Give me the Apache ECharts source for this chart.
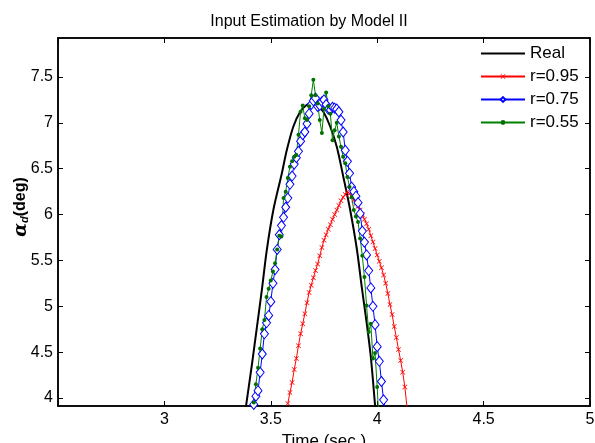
<!DOCTYPE html>
<html>
<head>
<meta charset="utf-8">
<script src="https://cdn.jsdelivr.net/npm/echarts@6/dist/echarts.min.js"></script>
<style>
  html, body { margin: 0; padding: 0; background: #fff; }
  #chart { width: 595px; height: 443px; }
</style>
</head>
<body>
<div id="chart"></div>
<script>
// values (time in sec, angle in deg)
var xTicks = [3, 3.5, 4, 4.5, 5];
var yTicks = [4, 4.5, 5, 5.5, 6, 6.5, 7, 7.5];
var legendNames = ['Real', 'r=0.95', 'r=0.75', 'r=0.55'];

var realT = [3.37, 3.384, 3.411, 3.434, 3.458, 3.481, 3.512, 3.552, 3.575, 3.606, 3.638, 3.665, 3.693,
    3.72, 3.747, 3.779, 3.81, 3.841, 3.873, 3.904, 3.928, 3.951, 3.97, 3.99, 4.0];
var realY = [3.69, 3.92, 4.36, 4.76, 5.18, 5.61, 6.05, 6.45, 6.7, 6.96, 7.12, 7.19, 7.22,
    7.19, 7.12, 6.96, 6.74, 6.41, 6.05, 5.63, 5.2, 4.81, 4.45, 3.92, 3.65];

var r95T = [3.58, 3.59, 3.6, 3.61, 3.62, 3.63, 3.64, 3.65, 3.66, 3.67, 3.68, 3.69, 3.7, 3.71, 3.72,
    3.73, 3.74, 3.75, 3.76, 3.77, 3.78, 3.79, 3.8, 3.81, 3.82, 3.83, 3.84, 3.85, 3.86, 3.87,
    3.88, 3.89, 3.9, 3.91, 3.92, 3.93, 3.94, 3.95, 3.96, 3.97, 3.98, 3.99, 4.0, 4.01, 4.02,
    4.03, 4.04, 4.05, 4.06, 4.07, 4.08, 4.09, 4.1, 4.11, 4.12, 4.13, 4.14];
var r95Y = [3.94, 4.06, 4.17, 4.31, 4.43, 4.57, 4.7, 4.81, 4.92, 5.04, 5.15, 5.23, 5.31, 5.39, 5.46,
    5.55, 5.64, 5.72, 5.78, 5.84, 5.89, 5.95, 6.0, 6.05, 6.1, 6.15, 6.19, 6.22, 6.25, 6.23,
    6.2, 6.16, 6.12, 6.09, 6.05, 6.0, 5.95, 5.9, 5.84, 5.77, 5.7, 5.63, 5.56, 5.49, 5.42,
    5.34, 5.25, 5.14, 5.02, 4.91, 4.78, 4.66, 4.53, 4.41, 4.28, 4.12, 3.9];

var r75T = [3.42, 3.43, 3.44, 3.45, 3.46, 3.47, 3.48, 3.49, 3.5, 3.51, 3.52, 3.53, 3.54, 3.55, 3.56,
    3.57, 3.58, 3.59, 3.6, 3.61, 3.62, 3.63, 3.64, 3.65, 3.66, 3.67, 3.68, 3.69, 3.7, 3.71,
    3.72, 3.73, 3.74, 3.75, 3.76, 3.77, 3.78, 3.79, 3.8, 3.81, 3.82, 3.83, 3.84, 3.85, 3.86,
    3.87, 3.88, 3.89, 3.9, 3.91, 3.92, 3.93, 3.94, 3.95, 3.96, 3.97, 3.98, 3.99, 4.0, 4.01,
    4.02, 4.03, 4.035];
var r75Y = [3.93, 4.02, 4.08, 4.28, 4.48, 4.7, 4.82, 4.9, 5.05, 5.25, 5.4, 5.62, 5.78, 5.88, 5.97,
    6.08, 6.18, 6.33, 6.42, 6.55, 6.62, 6.69, 6.8, 6.87, 6.9, 6.99, 7.1, 7.2, 7.24, 7.27,
    7.18, 7.19, 7.23, 7.25, 7.2, 7.15, 7.14, 7.17, 7.16, 7.15, 7.12, 7.03, 6.9, 6.7, 6.58,
    6.45, 6.3, 6.25, 6.2, 6.13, 6.01, 5.82, 5.7, 5.56, 5.39, 5.2, 5.0, 4.8, 4.56, 4.4,
    4.18, 3.98, 3.9];

var r55T = [3.42, 3.43, 3.44, 3.45, 3.46, 3.47, 3.48, 3.49, 3.5, 3.51, 3.52, 3.53, 3.54, 3.55, 3.56,
    3.57, 3.58, 3.59, 3.6, 3.61, 3.62, 3.63, 3.64, 3.65, 3.66, 3.67, 3.68, 3.69, 3.7, 3.71,
    3.72, 3.73, 3.74, 3.75, 3.76, 3.77, 3.78, 3.79, 3.8, 3.81, 3.82, 3.83, 3.84, 3.85, 3.86,
    3.87, 3.88, 3.89, 3.9, 3.91, 3.92, 3.93, 3.94, 3.95, 3.96, 3.97, 3.98, 3.99, 4.0, 4.005];
var r55Y = [3.95, 4.15, 4.33, 4.54, 4.75, 4.85, 5.1, 5.19, 5.28, 5.38, 5.47, 5.62, 5.77, 5.76, 6.18,
    6.25, 6.4, 6.52, 6.58, 6.63, 6.65, 6.87, 7.12, 7.19, 7.05, 7.03, 7.18, 7.3, 7.47, 7.3,
    7.21, 7.03, 6.89, 7.15, 7.33, 7.18, 7.1, 6.81, 6.92, 7.0, 6.85, 6.74, 6.63, 6.56, 6.41,
    6.3, 6.19, 6.05, 5.98, 5.92, 5.74, 5.55, 5.32, 5.01, 4.72, 4.81, 4.43, 4.49, 4.12, 3.9];

function pairs(t, y) {
    var out = [];
    for (var i = 0; i < t.length; i++) out.push([t[i], y[i]]);
    return out;
}

var font = 'Liberation Sans, Arial, sans-serif';
var crossPath = 'path://M0,1L1,0L5,4L9,0L10,1L6,5L10,9L9,10L5,6L1,10L0,9L4,5Z';

var chart = echarts.init(document.getElementById('chart'));

var option = {
    animation: false,
    backgroundColor: '#fff',
    title: {
        text: 'Input Estimation by Model II',
        left: 304,
        top: 9,
        textAlign: 'center',
        textStyle: { fontFamily: font, fontSize: 16, fontWeight: 'normal', color: '#000' }
    },
    legend: {
        orient: 'vertical',
        left: 475,
        top: 40,
        itemWidth: 44,
        itemHeight: 6,
        itemGap: 6,
        data: [
            { name: legendNames[0], icon: 'path://M0,0L44,0L44,2L0,2Z' },
            { name: legendNames[1] },
            { name: legendNames[2] },
            { name: legendNames[3] }
        ],
        textStyle: { fontFamily: font, fontSize: 17, color: '#000' }
    },
    grid: [
        { left: 58, right: 5, top: 38, bottom: 37, outerBoundsMode: 'none',
          show: true, borderColor: '#000', borderWidth: 1.5 },
        { left: 58, right: 5, top: 77, bottom: 45, outerBoundsMode: 'none' }
    ],
    xAxis: [
        {
            type: 'value', gridIndex: 0, min: 2.5, max: 5, interval: 0.5,
            name: 'Time (sec.)', nameLocation: 'middle', nameGap: 23,
            nameTextStyle: { fontFamily: font, fontSize: 17, color: '#000' },
            axisLine: { lineStyle: { color: '#000', width: 1.5 } },
            axisTick: { inside: true, length: 5, lineStyle: { color: '#000' } },
            axisLabel: {
                fontFamily: font, fontSize: 16, color: '#000', margin: 6,
                formatter: function (v) { return xTicks.indexOf(v) >= 0 ? String(v) : ''; }
            },
            splitLine: { show: false }
        },
        {
            type: 'value', gridIndex: 0, position: 'top', min: 2.5, max: 5, interval: 0.5,
            axisLine: { lineStyle: { color: '#000', width: 1.5 } },
            axisTick: { inside: true, length: 5, lineStyle: { color: '#000' } },
            axisLabel: { show: false },
            splitLine: { show: false }
        },
        { type: 'value', gridIndex: 1, min: 2.5, max: 5, show: false }
    ],
    yAxis: [
        {
            type: 'value', gridIndex: 0, min: 3.913, max: 7.925,
            axisLine: { show: true, lineStyle: { color: '#000', width: 1.5 } },
            axisTick: { show: false }, axisLabel: { show: false }, splitLine: { show: false }
        },
        {
            type: 'value', gridIndex: 0, position: 'right', min: 3.913, max: 7.925,
            axisLine: { show: true, lineStyle: { color: '#000', width: 1.5 } },
            axisTick: { show: false }, axisLabel: { show: false }, splitLine: { show: false }
        },
        {
            type: 'value', gridIndex: 1, min: 4, max: 7.5, interval: 0.5,
            axisLine: { show: false },
            axisTick: { show: true, inside: true, length: 5, lineStyle: { color: '#000' } },
            axisLabel: {
                fontFamily: font, fontSize: 16, color: '#000', margin: 5,
                formatter: function (v) { return yTicks.indexOf(v) >= 0 ? String(v) : ''; }
            },
            splitLine: { show: false }
        },
        {
            type: 'value', gridIndex: 1, position: 'right', min: 4, max: 7.5, interval: 0.5,
            axisLine: { show: false },
            axisTick: { show: true, inside: true, length: 5, lineStyle: { color: '#000' } },
            axisLabel: { show: false },
            splitLine: { show: false }
        }
    ],
    graphic: [
        {
            type: 'text',
            x: 21,
            y: 207,
            rotation: Math.PI / 2,
            style: {
                text: '{a|α}{s|d}{b|(deg)}',
                align: 'center',
                verticalAlign: 'middle',
                rich: {
                    a: { fontFamily: 'DejaVu Serif', fontSize: 18, fontStyle: 'italic', fontWeight: 'bold', fill: '#000' },
                    s: { fontFamily: font, fontSize: 11, fontStyle: 'italic', fontWeight: 'bold', fill: '#000', padding: [8, 0, 0, 0] },
                    b: { fontFamily: font, fontSize: 16, fontWeight: 'bold', fill: '#000' }
                }
            }
        }
    ],
    series: [
        {
            name: 'Real', type: 'line', xAxisIndex: 0, yAxisIndex: 0,
            data: pairs(realT, realY), symbol: 'none', smooth: 0.3,
            lineStyle: { color: '#000', width: 2 }, itemStyle: { color: '#000' }
        },
        {
            name: 'r=0.95', type: 'line', xAxisIndex: 0, yAxisIndex: 0,
            data: pairs(r95T, r95Y), symbol: crossPath, symbolSize: 5,
            lineStyle: { color: '#ff0000', width: 1 }, itemStyle: { color: '#ff0000' }
        },
        {
            name: 'r=0.75', type: 'line', xAxisIndex: 0, yAxisIndex: 0,
            data: pairs(r75T, r75Y), symbol: 'diamond', symbolSize: [8, 10],
            lineStyle: { color: '#0000ff', width: 1 },
            itemStyle: { color: '#fff', borderColor: '#0000ff', borderWidth: 1 }
        },
        {
            name: 'r=0.55', type: 'line', xAxisIndex: 0, yAxisIndex: 0,
            data: pairs(r55T, r55Y), symbol: 'circle', symbolSize: 4,
            lineStyle: { color: '#008000', width: 1 }, itemStyle: { color: '#007000' }
        }
    ]
};

chart.setOption(option);
</script>
</body>
</html>
